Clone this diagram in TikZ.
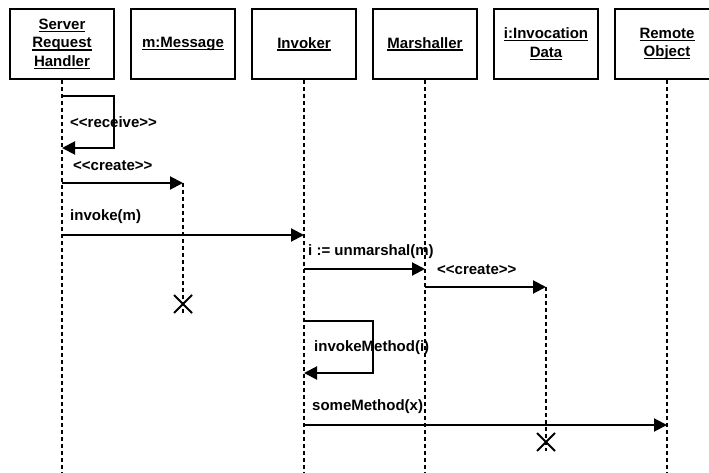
\documentclass[tikz,border=0pt]{standalone}
\usepackage{fontspec}
\setmainfont{Liberation Sans}
\usetikzlibrary{arrows.meta}
\newcommand\ulx[1]{\leavevmode\setbox0=\hbox{#1}\rlap{\rule[-2.6bp]{\wd0}{1.3bp}}\box0}
\begin{document}
\begin{tikzpicture}[x=1bp,y=-1bp,
  hdr/.style={draw,line width=2bp,minimum width=104bp,minimum height=70bp,inner sep=0pt,align=center,font=\fontsize{15bp}{18.5bp}\selectfont\bfseries},
  life/.style={line width=2bp,dash pattern=on 4bp off 3bp},
  msg/.style={line width=2bp,-{Triangle[length=13bp,width=13bp]}},
  lbl/.style={anchor=west,inner sep=0pt,font=\fontsize{15bp}{18bp}\selectfont\bfseries},
  xmark/.style={line width=2bp}]
\useasboundingbox (0,0) rectangle (709,473);
\clip (0,0) rectangle (709,473);

% headers
\node[hdr] (srh) at (62,44) {\ulx{Server}\\\ulx{Request}\\\ulx{Handler}};
\node[hdr] (msgo) at (183,44) {\ulx{m:Message}};
\node[hdr] (inv) at (304,44) {\ulx{Invoker}};
\node[hdr] (mar) at (425,44) {\ulx{Marshaller}};
\node[hdr] (dat) at (546,44) {\ulx{i:Invocation}\\\ulx{Data}};
\node[hdr] (rem) at (667,44) {\ulx{Remote}\\\ulx{Object}};

% lifelines of permanent objects
\draw[life] (srh.south) -- ++(0,400);
\draw[life] (inv.south) -- ++(0,400);
\draw[life] (mar.south) -- ++(0,400);
\draw[life] (rem.south) -- ++(0,400);

% message points
\coordinate (rcvA) at (62,96);
\coordinate (rcvB) at (62,148);
\coordinate (crA) at (62,183);
\coordinate (crB) at (183,183);
\coordinate (ivA) at (62,235);
\coordinate (ivB) at (304,235);
\coordinate (umA) at (304,269);
\coordinate (umB) at (425,269);
\coordinate (cdA) at (425,287);
\coordinate (cdB) at (546,287);
\coordinate (imA) at (304,321);
\coordinate (imB) at (304,373);
\coordinate (smA) at (304,425);
\coordinate (smB) at (667,425);
\coordinate (xm) at (183,304);
\coordinate (xd) at (546,442);

% lifelines of created objects
\draw[life] (crB) -- ([yshift=-9bp]xm);
\draw[life] (cdB) -- ([yshift=-9bp]xd);

% messages
\draw[msg] (rcvA) -- ++(52,0) |- (rcvB);
\node[lbl] (lrcv) at (70,122.5) {<{}<receive>{}>};
\draw[msg] (crA) -- (crB);
\node[lbl] (lcr) at (73,165.5) {<{}<create>{}>};
\draw[msg] (ivA) -- (ivB);
\node[lbl] (liv) at (70,216.5) {invoke(m)};
\draw[msg] (umA) -- (umB);
\node[lbl] (lum) at (308,252) {i := unmarshal(m)};
\draw[msg] (cdA) -- (cdB);
\node[lbl] (lcd) at (437,269.5) {<{}<create>{}>};
\draw[msg] (imA) -- ++(69,0) |- (imB);
\node[lbl] (lim) at (314,348) {invokeMethod(i)};
\draw[msg] (smA) -- (smB);
\node[lbl] (lsm) at (312,406.5) {someMethod(x)};

% destruction marks
\draw[xmark] ([shift={(-9bp,-9bp)}]xm) -- ([shift={(9bp,9bp)}]xm)
             ([shift={(-9bp,9bp)}]xm) -- ([shift={(9bp,-9bp)}]xm);
\draw[xmark] ([shift={(-9bp,-9bp)}]xd) -- ([shift={(9bp,9bp)}]xd)
             ([shift={(-9bp,9bp)}]xd) -- ([shift={(9bp,-9bp)}]xd);
\end{tikzpicture}
\end{document}
